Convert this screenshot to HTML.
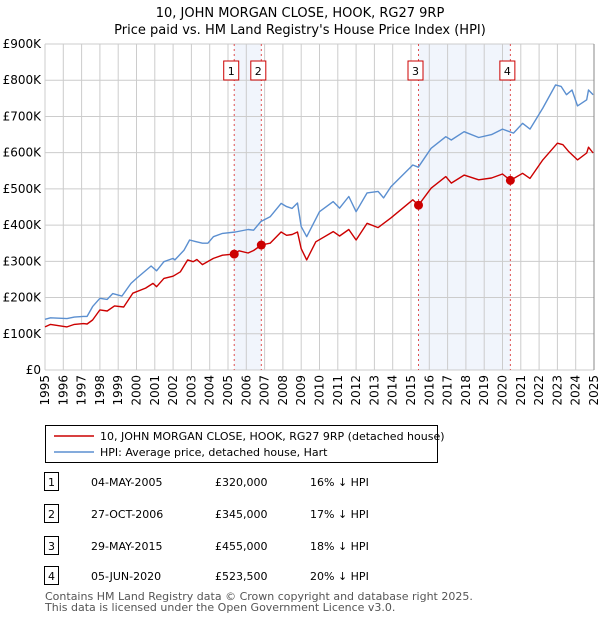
<!DOCTYPE html>
<html><head><meta charset="utf-8">
<style>
body{margin:0;background:#fff;font-family:"Liberation Sans","DejaVu Sans",sans-serif;}
#wrap{position:relative;width:600px;height:620px;overflow:hidden;}
svg text{font-family:"DejaVu Sans","Liberation Sans",sans-serif;}
</style></head>
<body>
<div id="wrap">
<svg id="chart" width="600" height="620"></svg>
</div>
<script>
const hpiYears=[1995.0,1995.3,1996.2,1996.6,1997.1,1997.3,1997.6,1998.0,1998.4,1998.7,1999.2,1999.7,2000.0,2000.8,2001.1,2001.5,2002.0,2002.1,2002.6,2002.9,2003.2,2003.6,2003.9,2004.2,2004.7,2005.4,2006.1,2006.4,2006.8,2007.3,2007.9,2008.2,2008.5,2008.8,2009.0,2009.3,2010.0,2010.75,2011.1,2011.6,2012.0,2012.6,2013.2,2013.5,2013.9,2015.1,2015.4,2016.1,2016.9,2017.2,2017.9,2018.7,2019.4,2020.0,2020.6,2021.1,2021.5,2022.2,2022.9,2023.2,2023.5,2023.8,2024.1,2024.6,2024.7,2024.95];
const hpiValues=[140,144,142,146,148,148,175,198,195,211,204,239,253,287,274,299,308,304,331,359,355,350,350,368,377,381,388,386,410,423,460,451,446,461,396,368,437,465,447,479,437,489,493,475,506,566,560,612,644,635,658,642,650,665,654,681,665,723,787,783,760,773,729,746,773,760];
const paidYears=[1995.0,1995.3,1996.2,1996.6,1997.1,1997.3,1997.6,1998.0,1998.4,1998.8,1999.3,1999.8,2000.5,2000.9,2001.1,2001.5,2002.0,2002.4,2002.8,2003.1,2003.3,2003.6,2004.2,2004.7,2005.34,2005.6,2006.1,2006.4,2006.82,2007.3,2007.9,2008.2,2008.5,2008.8,2009.0,2009.3,2009.8,2010.75,2011.1,2011.6,2012.0,2012.6,2013.2,2013.9,2015.1,2015.41,2016.1,2016.9,2017.2,2017.9,2018.7,2019.4,2020.0,2020.43,2021.1,2021.5,2022.2,2023.0,2023.3,2023.6,2024.1,2024.6,2024.7,2024.95];
const paidValues=[119,126,119,126,128,127,138,166,163,177,174,212,226,239,230,253,259,271,304,299,305,291,308,317,320,329,323,330,345,350,381,372,374,381,335,304,354,382,370,388,359,405,393,420,470,455,502,534,516,538,525,530,541,523.5,543,529,580,626,622,604,580,599,615,599];
const saleYears=[2005.34,2006.82,2015.41,2020.43];
const saleValues=[320,345,455,523.5];
const saleLabels=["1","2","3","4"];
const yTicks=[0,100,200,300,400,500,600,700,800,900];
const yTickLabels=["£0","£100K","£200K","£300K","£400K","£500K","£600K","£700K","£800K","£900K"];
const xTicks=[1995,1996,1997,1998,1999,2000,2001,2002,2003,2004,2005,2006,2007,2008,2009,2010,2011,2012,2013,2014,2015,2016,2017,2018,2019,2020,2021,2022,2023,2024,2025];

const NS="http://www.w3.org/2000/svg";
const svg=document.getElementById('chart');
const X0=45,X1=594,Y0=370,Y1=44;
const xs=y=>X0+(y-1995)/30*(X1-X0);
const ys=v=>Y0-v/900*(Y0-Y1);
function mk(tag,attrs,parent){const e=document.createElementNS(NS,tag);for(const k in attrs)e.setAttribute(k,attrs[k]);(parent||svg).appendChild(e);return e;}

let t=mk('text',{x:300,y:17,'text-anchor':'middle','font-size':'13',fill:'#000'});t.textContent='10, JOHN MORGAN CLOSE, HOOK, RG27 9RP';


t=mk('text',{x:300,y:34,'text-anchor':'middle','font-size':'13',fill:'#000'});t.textContent="Price paid vs. HM Land Registry's House Price Index (HPI)";



for(let i=0;i<saleYears.length;i+=2){
 const r=mk('rect',{x:xs(saleYears[i]),y:Y1,width:xs(saleYears[i+1])-xs(saleYears[i]),height:Y0-Y1,fill:'#f1f5fc'});
 
 
}
yTicks.forEach((v,i)=>{
 const l=mk('line',{x1:X0,x2:X1,y1:ys(v),y2:ys(v),stroke:'#cccccc','stroke-width':1});
 
 
 const tx=mk('text',{x:X0-4,y:ys(v)+4,'text-anchor':'end','font-size':'12',fill:'#000'});tx.textContent=yTickLabels[i];
 
 
});
xTicks.forEach(yr=>{
 const x=xs(yr);
 const l=mk('line',{x1:x,x2:x,y1:Y1,y2:Y0,stroke:'#cccccc','stroke-width':1});
 
 
 const tx=mk('text',{x:0,y:0,'text-anchor':'end','font-size':'12',fill:'#000',transform:`translate(${x+4},${Y0+5}) rotate(-90)`});tx.textContent=yr;
 
 
});
mk('line',{x1:X1,x2:X1,y1:Y1,y2:Y0,stroke:'#888','stroke-width':1});

saleYears.forEach((yr,i)=>{
 const x=xs(yr);
 const l=mk('line',{x1:x,x2:x,y1:Y1,y2:Y0,stroke:'#e05050','stroke-width':1,'stroke-dasharray':'2,3'});
 
 
 const b=mk('rect',{x:x-10.5,y:61,width:15,height:19,fill:'#fff',stroke:'#cc0000','stroke-width':1});
 
 
 const tx=mk('text',{x:x-3,y:75,'text-anchor':'middle','font-size':'11',fill:'#000'});tx.textContent=saleLabels[i];
 
 
});

function path(xv,yv,color,name){
 const d=xv.map((y,i)=>(i?'L':'M')+xs(y).toFixed(1)+','+ys(yv[i]).toFixed(1)).join('');
 const p=mk('path',{d:d,fill:'none',stroke:color,'stroke-width':1.4,'stroke-linejoin':'round'});
 
 
}
path(hpiYears,hpiValues,'#5b8fd0','hpi-line');
path(paidYears,paidValues,'#cc0000','price-paid-line');
saleYears.forEach((yr,i)=>{
 const c=mk('circle',{cx:xs(yr),cy:ys(saleValues[i]),r:4.5,fill:'#cc0000'});
 
 
});

const lg=mk('rect',{x:45.5,y:425.5,width:392,height:37,fill:'#fff',stroke:'#000','stroke-width':1});


mk('line',{x1:54,x2:94,y1:436,y2:436,stroke:'#cc0000','stroke-width':1.5});
mk('line',{x1:54,x2:94,y1:452,y2:452,stroke:'#5b8fd0','stroke-width':1.5});
t=mk('text',{x:100,y:440,'font-size':'11',fill:'#000'});t.textContent='10, JOHN MORGAN CLOSE, HOOK, RG27 9RP (detached house)';


t=mk('text',{x:100,y:456,'font-size':'11',fill:'#000'});t.textContent='HPI: Average price, detached house, Hart';



const rows=[["1","04-MAY-2005","£320,000","16% ↓ HPI"],["2","27-OCT-2006","£345,000","17% ↓ HPI"],["3","29-MAY-2015","£455,000","18% ↓ HPI"],["4","05-JUN-2020","£523,500","20% ↓ HPI"]];
const rowY=[482,514,546,576];
rows.forEach((r,i)=>{
 const y=rowY[i];
 const b=mk('rect',{x:44.5,y:y-9.5,width:14,height:18,fill:'#fff',stroke:'#000','stroke-width':1});
 
 
 const cells=[[51.5,r[0],'middle'],[91,r[1],'start'],[215,r[2],'start'],[310,r[3],'start']];
 cells.forEach(c=>{const tx=mk('text',{x:c[0],y:y+4,'text-anchor':c[2],'font-size':'11',fill:'#000'});tx.textContent=c[1];
  
  });
});
t=mk('text',{x:45,y:600,'font-size':'11',fill:'#555'});t.textContent='Contains HM Land Registry data © Crown copyright and database right 2025.';


t=mk('text',{x:45,y:611,'font-size':'11',fill:'#555'});t.textContent='This data is licensed under the Open Government Licence v3.0.';


</script>
</body></html>
